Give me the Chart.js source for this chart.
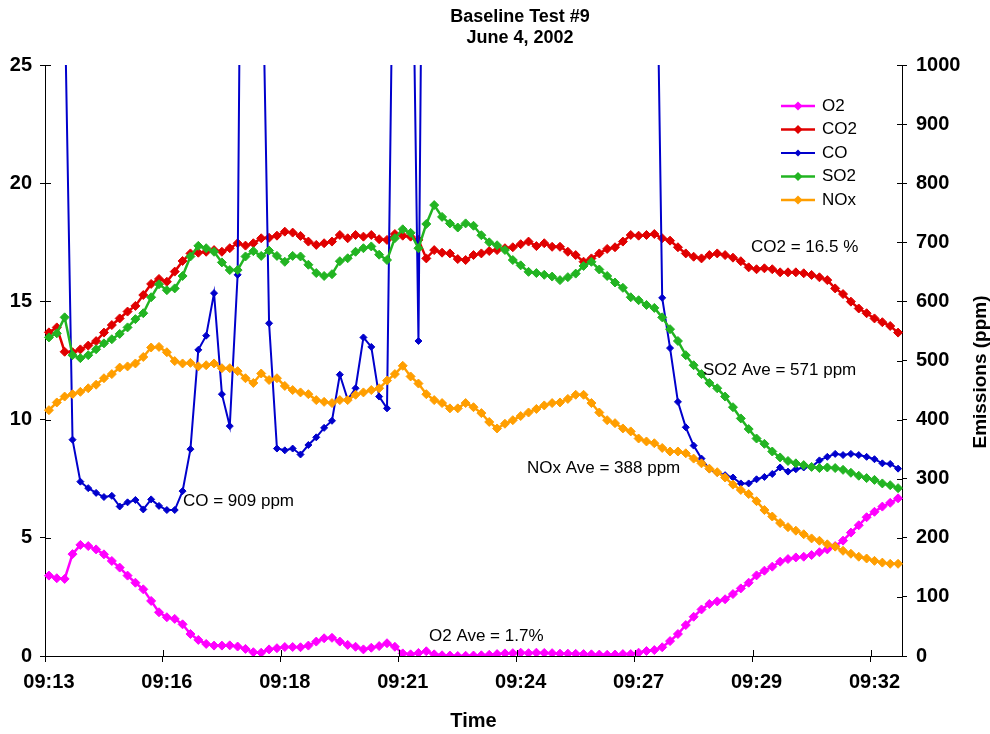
<!DOCTYPE html>
<html>
<head>
<meta charset="utf-8">
<title>Baseline Test #9</title>
<script src="https://cdn.jsdelivr.net/npm/chart.js@4.4.1/dist/chart.umd.min.js"></script>
<style>
  html, body { margin: 0; padding: 0; background: #fff; }
  canvas { display: block; }
</style>
</head>
<body>
<canvas id="chart" width="990" height="734"></canvas>
<script>
// time labels, one every 15 samples
var timeTicks = ["09:13", "09:16", "09:18", "09:21", "09:24", "09:27", "09:29", "09:32"];
var tickEvery = 15;

// left axis, %
var o2 = [3.40, 3.29, 3.26, 4.31, 4.70, 4.65, 4.51, 4.30, 4.02, 3.74,
  3.40, 3.10, 2.82, 2.33, 1.85, 1.64, 1.57, 1.34, 0.93, 0.68,
  0.51, 0.44, 0.44, 0.45, 0.40, 0.30, 0.16, 0.14, 0.28, 0.33,
  0.38, 0.38, 0.37, 0.44, 0.61, 0.75, 0.77, 0.61, 0.47, 0.39,
  0.28, 0.35, 0.42, 0.54, 0.39, 0.11, 0.07, 0.13, 0.20, 0.07,
  0.03, 0.02, 0.00, 0.01, 0.02, 0.03, 0.05, 0.08, 0.11, 0.12,
  0.14, 0.12, 0.14, 0.13, 0.12, 0.10, 0.10, 0.09, 0.08, 0.07,
  0.06, 0.05, 0.06, 0.08, 0.08, 0.14, 0.21, 0.25, 0.37, 0.63,
  0.93, 1.31, 1.66, 1.97, 2.20, 2.31, 2.40, 2.62, 2.86, 3.10,
  3.41, 3.61, 3.78, 3.99, 4.10, 4.17, 4.20, 4.27, 4.39, 4.51,
  4.65, 4.88, 5.22, 5.53, 5.87, 6.10, 6.32, 6.48, 6.67];
var co2 = [13.69, 13.90, 12.87, 12.85, 12.97, 13.13, 13.32, 13.68, 14.00, 14.28,
  14.57, 14.81, 15.27, 15.74, 15.95, 15.83, 16.26, 16.71, 17.03, 17.06,
  17.10, 17.17, 17.10, 17.25, 17.46, 17.36, 17.46, 17.67, 17.69, 17.78,
  17.95, 17.91, 17.77, 17.53, 17.39, 17.46, 17.53, 17.81, 17.67, 17.81,
  17.74, 17.81, 17.63, 17.60, 17.85, 17.78, 17.74, 17.60, 16.82, 17.17,
  17.06, 17.03, 16.79, 16.75, 16.96, 17.03, 17.13, 17.17, 17.25, 17.29,
  17.42, 17.53, 17.34, 17.46, 17.31, 17.31, 17.10, 16.96, 16.68, 16.82,
  17.03, 17.22, 17.29, 17.53, 17.81, 17.78, 17.81, 17.85, 17.67, 17.57,
  17.29, 17.03, 16.89, 16.82, 16.96, 17.03, 16.96, 16.85, 16.70, 16.44,
  16.36, 16.40, 16.36, 16.23, 16.23, 16.23, 16.19, 16.12, 16.02, 15.90,
  15.55, 15.31, 14.99, 14.70, 14.50, 14.28, 14.12, 13.96, 13.68];

// right axis, ppm (CO goes off the top of the scale in places)
var co = [1500, 1300, 1120, 366, 295, 284, 276, 269, 271, 253,
  260, 264, 248, 265, 254, 247, 247, 279, 350, 518,
  542, 614, 443, 389, 645, 2300, 2000, 1300, 563, 351,
  348, 351, 341, 357, 370, 386, 398, 476, 434, 453,
  539, 523, 439, 419, 1470, 2500, 1470, 533, 2100, 2350,
  2210, 2080, 1960, 1890, 1840, 1920, 2030, 2150, 1990, 1930,
  2060, 1970, 1880, 1810, 1760, 1830, 1950, 2070, 1870, 2010,
  1930, 1870, 1990, 2080, 2010, 1880, 1720, 1500, 606, 521,
  430, 387, 356, 334, 316, 310, 306, 302, 292, 292,
  299, 303, 308, 319, 312, 316, 319, 320, 331, 337,
  342, 340, 342, 340, 337, 333, 326, 325, 317];
var so2 = [539, 546, 573, 509, 504, 509, 519, 529, 536, 545,
  556, 570, 580, 607, 629, 619, 622, 643, 676, 694,
  690, 684, 666, 653, 653, 676, 685, 677, 686, 677,
  667, 677, 676, 662, 648, 643, 646, 668, 673, 684,
  690, 693, 679, 670, 707, 722, 716, 690, 731, 763,
  743, 732, 725, 732, 728, 712, 700, 695, 687, 670,
  661, 650, 648, 645, 642, 636, 641, 647, 660, 667,
  654, 643, 632, 623, 607, 602, 594, 589, 573, 553,
  533, 509, 492, 477, 462, 453, 439, 421, 402, 384,
  368, 359, 346, 336, 330, 326, 323, 320, 318, 319,
  318, 315, 310, 305, 301, 298, 292, 289, 284];
var nox = [416, 429, 439, 443, 447, 453, 459, 470, 477, 488,
  490, 495, 506, 522, 523, 514, 499, 495, 496, 490,
  492, 495, 487, 487, 482, 470, 462, 478, 467, 470,
  457, 450, 446, 443, 433, 430, 428, 433, 433, 442,
  446, 450, 453, 466, 477, 491, 473, 461, 443, 433,
  428, 419, 419, 428, 421, 411, 396, 385, 393, 399,
  406, 412, 418, 424, 428, 429, 435, 442, 442, 428,
  412, 399, 394, 385, 380, 368, 363, 360, 352, 346,
  346, 343, 334, 326, 317, 311, 302, 290, 281, 274,
  262, 247, 236, 225, 218, 212, 206, 199, 195, 189,
  185, 178, 173, 168, 165, 161, 158, 156, 156];

var titleLines = ["Baseline Test #9", "June 4, 2002"];
var notes = [
  { text: "CO2 = 16.5 %", x: 751, y: 247 },
  { text: "SO2 Ave = 571 ppm", x: 703, y: 370 },
  { text: "NOx Ave = 388 ppm", x: 527, y: 468 },
  { text: "CO = 909 ppm", x: 183, y: 501 },
  { text: "O2 Ave = 1.7%", x: 429, y: 636 }
];

var FONT = '"Liberation Sans", Arial, sans-serif';

// category labels: only every 15th sample carries a time
var labels = [];
for (var i = 0; i < o2.length; i++) {
  labels.push(i % tickEvery === 0 ? timeTicks[i / tickEvery] : "");
}

function series(label, data, color, axis, radius, width, order) {
  return {
    label: label,
    data: data,
    yAxisID: axis,
    borderColor: color,
    backgroundColor: color,
    borderWidth: width,
    pointStyle: 'rectRot',
    pointRadius: radius,
    pointBackgroundColor: color,
    pointBorderColor: color,
    pointBorderWidth: 1,
    tension: 0,
    fill: false,
    order: order
  };
}

var datasets = [
  series("O2", o2, "#FF00FF", "y", 4.5, 2.5, 5),
  series("CO2", co2, "#E00000", "y", 4.5, 2.5, 4),
  series("CO", co, "#0000CC", "y2", 3.5, 2, 3),
  series("SO2", so2, "#22B422", "y2", 4.5, 2.5, 2),
  series("NOx", nox, "#FF9E00", "y2", 4.5, 2.5, 1)
];

// titles, notes, legend and the inner half of the cross tick marks
var extras = {
  id: 'extras',
  afterDraw: function (chart) {
    var ctx = chart.ctx, area = chart.chartArea;
    var xs = chart.scales.x, yl = chart.scales.y, yr = chart.scales.y2;
    ctx.save();
    ctx.strokeStyle = "#000";
    ctx.lineWidth = 1;
    ctx.beginPath();
    yl.ticks.forEach(function (t) {
      var py = Math.round(yl.getPixelForValue(t.value)) + 0.5;
      ctx.moveTo(area.left, py); ctx.lineTo(area.left + 6, py);
    });
    yr.ticks.forEach(function (t) {
      var py = Math.round(yr.getPixelForValue(t.value)) + 0.5;
      ctx.moveTo(area.right, py); ctx.lineTo(area.right - 5, py);
    });
    var w = xs.getPixelForValue(1) - xs.getPixelForValue(0);
    for (var k = 0; k < labels.length; k += tickEvery) {
      var px = Math.round(xs.getPixelForValue(k) - w / 2) + 0.5;
      ctx.moveTo(px, area.bottom); ctx.lineTo(px, area.bottom - 6);
    }
    ctx.stroke();

    ctx.fillStyle = "#000";
    ctx.textAlign = "center";
    ctx.textBaseline = "middle";
    ctx.font = "bold 18px " + FONT;
    ctx.fillText(titleLines[0], 520, 17);
    ctx.fillText(titleLines[1], 520, 38);

    ctx.save();
    ctx.translate(981, 372);
    ctx.rotate(-Math.PI / 2);
    ctx.font = "bold 19px " + FONT;
    ctx.fillText("Emissions (ppm)", 0, 0);
    ctx.restore();

    ctx.textAlign = "left";
    ctx.font = "17px " + FONT;
    notes.forEach(function (n) { ctx.fillText(n.text, n.x, n.y); });

    // legend
    chart.data.datasets.forEach(function (ds, j) {
      var ly = 106 + j * 23.5;
      ctx.strokeStyle = ds.borderColor;
      ctx.lineWidth = ds.borderWidth;
      ctx.beginPath();
      ctx.moveTo(781, ly); ctx.lineTo(815, ly);
      ctx.stroke();
      var r = ds.pointRadius;
      ctx.fillStyle = ds.borderColor;
      ctx.beginPath();
      ctx.moveTo(798 - r, ly); ctx.lineTo(798, ly - r);
      ctx.lineTo(798 + r, ly); ctx.lineTo(798, ly + r);
      ctx.closePath();
      ctx.fill();
      ctx.fillStyle = "#000";
      ctx.fillText(ds.label, 822, ly);
    });
    ctx.restore();
  }
};

var tickFont = { family: FONT, size: 20, weight: 'bold' };
function plain(v) { return String(v); }

new Chart(document.getElementById("chart").getContext("2d"), {
  type: 'line',
  data: { labels: labels, datasets: datasets },
  options: {
    responsive: false,
    animation: false,
    devicePixelRatio: 1,
    layout: { padding: { top: 65, left: 0, right: 0, bottom: 0 } },
    plugins: { legend: { display: false }, title: { display: false }, tooltip: { enabled: false } },
    scales: {
      x: {
        type: 'category',
        offset: true,
        grid: {
          offset: true,
          drawOnChartArea: false,
          tickLength: 6,
          tickColor: function (c) { return c.index % tickEvery === 0 ? "#000" : "rgba(0,0,0,0)"; }
        },
        border: { color: "#000", width: 1 },
        ticks: { autoSkip: false, maxRotation: 0, minRotation: 0, color: "#000", font: tickFont, padding: 8 },
        title: { display: true, text: "Time", color: "#000", font: { family: FONT, size: 20, weight: 'bold' }, padding: { top: 0, bottom: 1 } },
        afterFit: function (s) { s.height = 78; }
      },
      y: {
        position: 'left',
        min: 0, max: 25,
        grid: { drawOnChartArea: false, tickLength: 5, tickColor: "#000" },
        border: { color: "#000", width: 1 },
        ticks: { stepSize: 5, color: "#000", font: tickFont, padding: 8, callback: plain },
        afterFit: function (s) { s.width = 45; }
      },
      y2: {
        position: 'right',
        min: 0, max: 1000,
        grid: { drawOnChartArea: false, tickLength: 5, tickColor: "#000" },
        border: { color: "#000", width: 1 },
        ticks: { stepSize: 100, color: "#000", font: tickFont, padding: 9, callback: plain },
        afterFit: function (s) { s.width = 88; }
      }
    }
  },
  plugins: [extras]
});
</script>
</body>
</html>
